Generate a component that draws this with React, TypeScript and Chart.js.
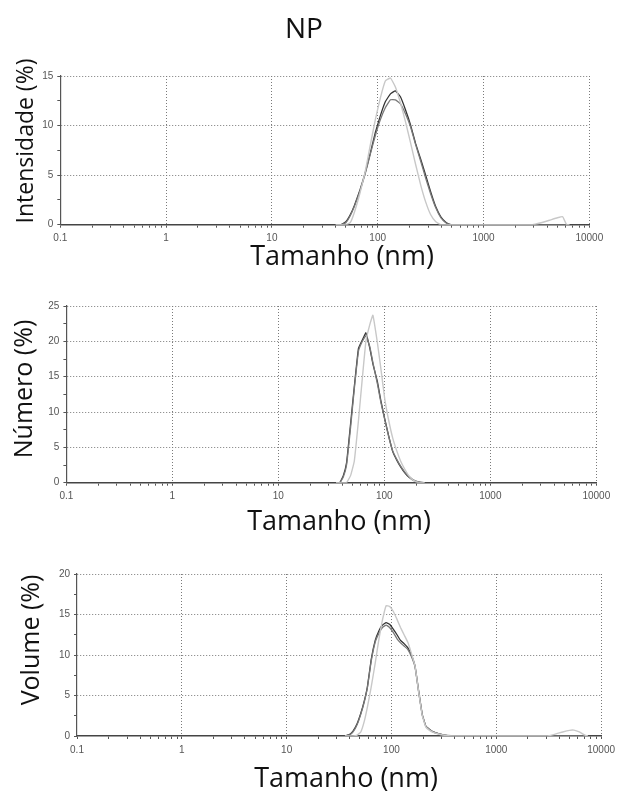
import React, { useEffect, useRef } from "react";
import { Chart, registerables } from "chart.js";

Chart.register(...registerables);

// ---------- shared axis data ----------
const X_DECADES = [0.1, 1, 10, 100, 1000, 10000];
const X_TICK_LABELS = ["0.1", "1", "10", "100", "1000", "10000"];

// ---------- Intensidade ----------
const intSizes = [40, 45, 50, 55, 60, 68, 76, 85, 95, 106, 118, 132, 147, 164, 183, 204, 228, 255, 284, 317, 354, 395, 440, 490, 550, 2900, 3500, 4200, 5000, 5600, 6100, 6500];
const intDark = [0, 0, 0.3, 1.0, 1.9, 3.5, 5.2, 7.2, 9.3, 11.0, 12.4, 13.2, 13.5, 12.9, 11.6, 10.1, 8.2, 6.6, 5.0, 3.3, 1.8, 0.8, 0.25, 0, 0, 0, 0, 0, 0, 0, 0, 0];
const intMedium = [0, 0, 0.2, 0.9, 1.8, 3.4, 5.1, 7.1, 9.0, 10.6, 11.8, 12.6, 12.6, 12.2, 11.2, 9.9, 8.1, 6.4, 4.7, 3.1, 1.7, 0.7, 0.2, 0, 0, 0, 0, 0, 0, 0, 0, 0];
const intLight = [0, 0, 0, 0.2, 1.2, 3.2, 5.3, 8.0, 10.6, 12.8, 14.5, 14.8, 13.9, 12.3, 10.4, 8.3, 6.1, 4.0, 2.3, 1.0, 0.3, 0, 0, 0, 0, 0, 0.2, 0.45, 0.7, 0.8, 0, 0];

// ---------- Número ----------
const numSizes = [35, 38, 41, 44, 48, 52, 57, 62, 67, 73, 78, 86, 93, 101, 110, 120, 131, 143, 156, 170, 185, 202, 220, 240];
const numDark = [0, 0, 1.0, 2.8, 8.3, 13.5, 19.0, 20.2, 21.2, 19.0, 16.8, 14.3, 11.5, 9.0, 6.6, 4.4, 3.2, 2.2, 1.4, 0.8, 0.4, 0.15, 0.05, 0];
const numMedium = [0, 0, 0.8, 2.5, 7.8, 13.2, 18.6, 20.0, 20.8, 19.2, 17.0, 14.0, 11.3, 8.9, 6.5, 4.5, 3.3, 2.3, 1.5, 0.9, 0.45, 0.2, 0.05, 0];
const numLight = [0, 0, 0, 0, 1.0, 3.0, 8.8, 14.8, 20.0, 22.4, 23.7, 19.8, 16.0, 11.8, 8.8, 6.3, 4.5, 3.0, 1.9, 1.0, 0.4, 0.1, 0, 0];

// ---------- Volume ----------
const volSizes = [36, 40, 43, 47, 51, 55, 59, 64, 70, 76, 82, 89, 96, 104, 113, 122, 132, 143, 155, 168, 182, 197, 213, 231, 250, 280, 320, 370, 420, 3000, 3600, 4300, 5000, 5500, 6200, 7000, 7500];
const volDark = [0, 0.2, 0.6, 1.5, 2.8, 4.3, 6.1, 9.4, 11.8, 13.0, 13.7, 14.0, 13.8, 13.2, 12.5, 11.8, 11.4, 10.9, 10.0, 8.6, 5.5, 2.6, 1.2, 0.8, 0.5, 0.28, 0.12, 0.03, 0, 0, 0, 0, 0, 0, 0, 0, 0];
const volMedium = [0, 0.15, 0.5, 1.4, 2.7, 4.2, 6.0, 9.2, 11.6, 12.7, 13.4, 13.7, 13.4, 12.8, 12.0, 11.5, 11.1, 10.7, 9.8, 8.5, 5.4, 2.6, 1.2, 0.8, 0.5, 0.3, 0.15, 0.05, 0, 0, 0, 0, 0, 0, 0, 0, 0];
const volLight = [0, 0, 0, 0.1, 0.5, 1.8, 3.6, 6.0, 9.0, 12.0, 14.3, 16.1, 16.0, 15.4, 14.4, 13.4, 12.5, 11.6, 10.2, 8.6, 5.4, 2.5, 1.1, 0.7, 0.45, 0.25, 0.1, 0, 0, 0, 0.2, 0.5, 0.7, 0.72, 0.5, 0.1, 0];

const COLORS = { light: "#c8c8c8", medium: "#787878", dark: "#333333" };
const TITLE_FONT = '"Open Sans", "Noto Sans", sans-serif';
const TICK_FONT = '"Liberation Sans", Arial, sans-serif';

type TextItem = { text: string; x: number; y: number; size: number; rot?: number };

type PanelProps = {
  top: number;
  height: number;
  area: { left: number; right: number; top: number; bottom: number };
  yMax: number;
  sizes: number[];
  light: number[];
  medium: number[];
  dark: number[];
  texts: TextItem[];
};

function makeXTicks(): number[] {
  const out: number[] = [];
  for (let i = 0; i < X_DECADES.length - 1; i++) {
    for (let m = 1; m <= 9; m++) out.push(Number((X_DECADES[i] * m).toPrecision(6)));
  }
  out.push(X_DECADES[X_DECADES.length - 1]);
  return out;
}

function decadeIndex(v: number): number {
  return X_DECADES.findIndex((d) => Math.abs(d - v) < d * 1e-6);
}

function Panel(props: PanelProps) {
  const ref = useRef<HTMLCanvasElement | null>(null);
  useEffect(() => {
    const canvas = ref.current;
    if (!canvas) return;
    const { top, height, area, yMax, sizes, light, medium, dark, texts } = props;
    const X_AXIS_H = 20;
    const toPts = (vals: number[]) => sizes.map((s, i) => ({ x: s, y: vals[i] }));
    const textPlugin = {
      id: "pageText",
      afterDraw(chart: any) {
        const ctx = chart.ctx;
        for (const t of texts) {
          ctx.save();
          ctx.translate(t.x, t.y - top);
          ctx.rotate(t.rot || 0);
          ctx.font = `${t.size}px ${TITLE_FONT}`;
          ctx.fillStyle = "#111";
          ctx.textAlign = "center";
          ctx.textBaseline = "middle";
          ctx.fillText(t.text, 0, 0);
          ctx.restore();
        }
      },
    };
    const ds = (label: string, vals: number[], color: string, w: number) => ({
      label,
      data: toPts(vals),
      borderColor: color,
      backgroundColor: color,
      borderWidth: w,
      pointRadius: 0,
      tension: 0.1,
      fill: false,
    });
    const chart = new Chart(canvas, {
      type: "line",
      data: {
        datasets: [
          ds("Medida 3", light, COLORS.light, 1.4),
          ds("Medida 2", medium, COLORS.medium, 1.3),
          ds("Medida 1", dark, COLORS.dark, 1.3),
        ],
      },
      options: {
        responsive: false,
        animation: false,
        events: [],
        layout: {
          padding: {
            left: 0,
            right: 620 - area.right,
            top: area.top - top,
            bottom: top + height - area.bottom - X_AXIS_H,
          },
        },
        plugins: { legend: { display: false }, tooltip: { enabled: false }, title: { display: false } },
        scales: {
          x: {
            type: "logarithmic",
            min: X_DECADES[0],
            max: X_DECADES[X_DECADES.length - 1],
            afterBuildTicks: (axis: any) => {
              axis.ticks = makeXTicks().map((v) => ({ value: v }));
            },
            afterFit: (scale: any) => {
              scale.height = X_AXIS_H;
            },
            ticks: {
              autoSkip: false,
              maxRotation: 0,
              minRotation: 0,
              padding: 5,
              color: "#555",
              font: { family: TICK_FONT, size: 10 },
              callback: (v: any) => {
                const i = decadeIndex(Number(v));
                return i >= 0 ? X_TICK_LABELS[i] : "";
              },
            },
            grid: {
              color: (c: any) => {
                const v = c.tick ? c.tick.value : 0;
                const i = decadeIndex(v);
                return i > 0 ? "#7a7a7a" : "rgba(0,0,0,0)";
              },
              lineWidth: 1,
              tickLength: 3,
              tickColor: "#555",
              tickWidth: 1,
            },
            border: { display: true, color: "#444", width: 1.6, dash: [1, 2] },
          },
          y: {
            type: "linear",
            min: 0,
            max: yMax,
            afterFit: (scale: any) => {
              scale.width = area.left;
            },
            ticks: {
              stepSize: 2.5,
              autoSkip: false,
              padding: 4,
              color: "#555",
              font: { family: TICK_FONT, size: 10 },
              callback: (v: any) => (Number(v) % 5 === 0 ? String(v) : ""),
            },
            grid: {
              color: (c: any) => {
                const v = c.tick ? c.tick.value : 0;
                return v > 0 && v % 5 === 0 ? "#7a7a7a" : "rgba(0,0,0,0)";
              },
              lineWidth: 1,
              tickLength: 3,
              tickColor: "#555",
              tickWidth: 1,
            },
            border: { display: true, color: "#555", width: 1.2, dash: [1, 2] },
          },
        },
      },
      plugins: [textPlugin],
    } as any);
    return () => chart.destroy();
  }, []);
  return (
    <canvas
      ref={ref}
      width={620}
      height={props.height}
      style={{ position: "absolute", left: 0, top: props.top, width: 620, height: props.height }}
    />
  );
}

export default function App() {
  return (
    <div style={{ position: "absolute", left: 0, top: 0, width: 620, height: 793, background: "#fff" }}>
      <Panel
        top={0}
        height={275}
        area={{ left: 60.3, right: 589.3, top: 76, bottom: 224.7 }}
        yMax={15}
        sizes={intSizes}
        light={intLight}
        medium={intMedium}
        dark={intDark}
        texts={[
          { text: "NP", x: 304, y: 30, size: 28 },
          { text: "Tamanho (nm)", x: 342, y: 257, size: 27 },
          { text: "Intensidade (%)", x: 26, y: 141, size: 23, rot: -Math.PI / 2 },
        ]}
      />
      <Panel
        top={275}
        height={265}
        area={{ left: 66.4, right: 596.3, top: 306, bottom: 482.7 }}
        yMax={25}
        sizes={numSizes}
        light={numLight}
        medium={numMedium}
        dark={numDark}
        texts={[
          { text: "Tamanho (nm)", x: 339, y: 522, size: 27 },
          { text: "Número (%)", x: 25, y: 389, size: 25, rot: -Math.PI / 2 },
        ]}
      />
      <Panel
        top={540}
        height={253}
        area={{ left: 77, right: 607, top: 574, bottom: 736 }}
        yMax={20}
        sizes={volSizes}
        light={volLight}
        medium={volMedium}
        dark={volDark}
        texts={[
          { text: "Tamanho (nm)", x: 346, y: 779, size: 27 },
          { text: "Volume (%)", x: 32, y: 640, size: 25, rot: -Math.PI / 2 },
        ]}
      />
    </div>
  );
}
